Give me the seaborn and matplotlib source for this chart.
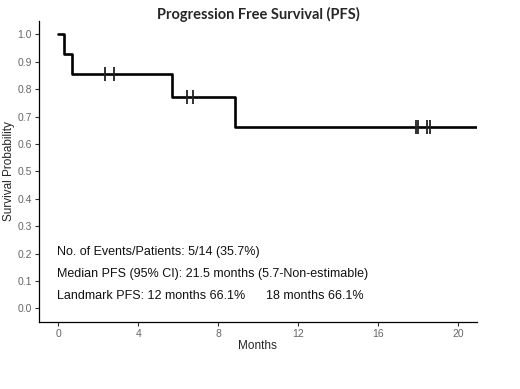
import numpy as np
import pandas as pd
import matplotlib
matplotlib.use("Agg")
import matplotlib.pyplot as plt
import seaborn as sns

# Kaplan-Meier steps
step_months = [0.0, 0.3, 0.7, 5.7, 8.85, 21.0]
step_surv = [1.0, 0.929, 0.857, 0.771, 0.661, 0.661]

# censored patients
cens_months = [2.35, 2.8, 6.45, 6.75, 17.9, 18.0, 18.45, 18.62]
cens_surv = [0.857, 0.857, 0.771, 0.771, 0.661, 0.661, 0.661, 0.661]

info_lines = [
    "No. of Events/Patients: 5/14 (35.7%)",
    "Median PFS (95% CI): 21.5 months (5.7-Non-estimable)",
    "Landmark PFS: 12 months 66.1%",
]
info_extra = "18 months 66.1%"

sns.set_style("white")
plt.rcParams['font.family'] = ['Liberation Sans', 'DejaVu Sans']

km = pd.DataFrame({"Months": step_months, "Surv": step_surv})
cens = pd.DataFrame({"Months": cens_months, "Surv": cens_surv})

fig = plt.figure(figsize=(5.2, 3.89), dpi=100)
ax = fig.add_axes([0.075, 0.172, 0.842, 0.775])

sns.lineplot(data=km, x="Months", y="Surv", drawstyle="steps-post",
             color="black", linewidth=1.9, estimator=None, ax=ax)
sns.scatterplot(data=cens, x="Months", y="Surv", marker="|", s=110,
                linewidth=1.3, color="#222222", ax=ax, zorder=3)

ax.set_xlim(-0.97, 20.95)
ax.set_ylim(-0.05, 1.05)
ax.set_xticks([0, 4, 8, 12, 16, 20])
ax.set_yticks(np.round(np.arange(0, 1.01, 0.1), 1))
ax.set_yticklabels([f"{v:.1f}" for v in np.arange(0, 1.01, 0.1)])
ax.tick_params(axis="both", labelsize=7.5, colors="#333333", labelcolor="#666666",
               length=3, width=0.8, direction="out", bottom=True, left=True, pad=2)
for s in ["top", "right"]:
    ax.spines[s].set_visible(False)
for s in ["left", "bottom"]:
    ax.spines[s].set_color("black")
    ax.spines[s].set_linewidth(0.9)

ax.set_xlabel("Months", fontsize=8.5, labelpad=1)
ax.set_ylabel("Survival Probability", fontsize=8.5)
ax.yaxis.set_label_coords(-0.055, 0.5)

fig.text(0.497, 0.962, "Progression Free Survival (PFS)", ha="center",
         va="center", fontsize=10.5, fontweight="bold",
         family=["Lato", "DejaVu Sans"])

for yv, txt in zip([0.206, 0.127, 0.046], info_lines):
    ax.text(-0.07, yv, txt, fontsize=9.0, va="center", ha="left", color="#111111")
ax.text(10.4, 0.046, info_extra, fontsize=9.0, va="center", ha="left", color="#111111")

fig.savefig("out.png", dpi=100)
